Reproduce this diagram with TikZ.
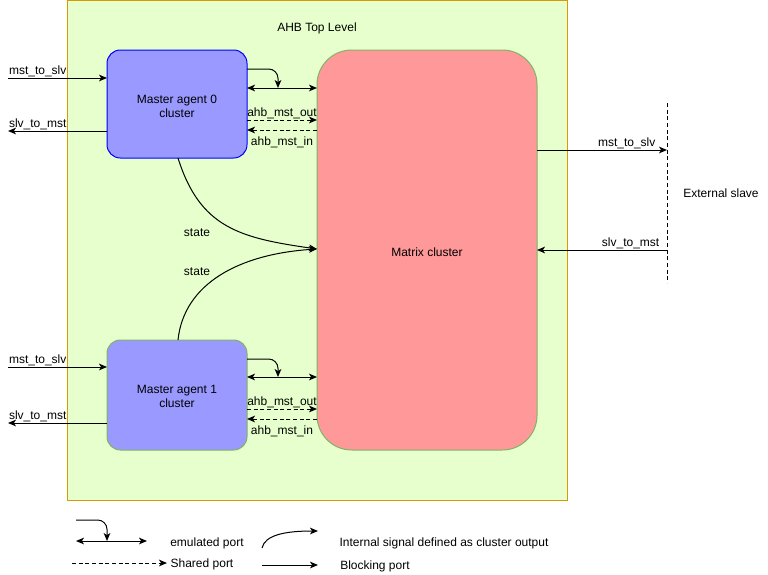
\documentclass[tikz,border=0pt]{standalone}
\usepackage{fontspec}
\setmainfont{Liberation Sans}
\usetikzlibrary{arrows.meta,calc}
\definecolor{topfill}{HTML}{E6FFCC}
\definecolor{topline}{HTML}{D79B00}
\definecolor{agentfill}{HTML}{9999FF}
\definecolor{matrixfill}{HTML}{FF9999}
\definecolor{greenline}{HTML}{82B366}
\begin{document}
\begin{tikzpicture}[x=0.75pt,y=-0.75pt,
  every node/.style={font=\fontsize{9}{10.5}\selectfont, inner sep=0pt, outer sep=0pt},
  tip/.style={-{Stealth[length=6pt,width=5pt,inset=1.6pt]}},
  tips/.style={{Stealth[length=6pt,width=5pt,inset=1.6pt]}-{Stealth[length=6pt,width=5pt,inset=1.6pt]}},
  wire/.style={line width=0.75pt, tip},
  shared/.style={line width=0.75pt, dashed, dash pattern=on 3pt off 2pt, tip},
  agent/.style={draw, line width=0.75pt, fill=agentfill, rounded corners=10pt, minimum width=105pt, minimum height=81pt},
  boxtext/.style={align=center}]
\useasboundingbox (0,0) rectangle (768,575);

% top level container
\node[draw=topline, fill=topfill, line width=0.75pt, minimum width=375pt, minimum height=375pt, anchor=north west] (top) at (67,0) {};
\node (toptitle) at (317,28) {AHB Top Level};

% clusters
\node[agent, draw=blue, anchor=north west] (m0) at (107,50) {};
\node[boxtext] (m0lbl) at (177,106) {Master agent 0\\cluster};
\node[agent, draw=greenline, anchor=north west, minimum height=82.5pt] (m1) at (107,340) {};
\node[boxtext] (m1lbl) at (177,396.5) {Master agent 1\\cluster};
\node[draw=greenline, fill=matrixfill, line width=0.75pt, rounded corners=26pt, minimum width=165pt, minimum height=300pt, anchor=north west] (mx) at (317,50) {};
\node (mxlbl) at (427,252) {Matrix cluster};

% external side
\coordinate (ext0) at (667,103);
\coordinate (ext1) at (667,283);
\draw[line width=0.75pt, dashed, dash pattern=on 3pt off 2pt] (ext0) -- (ext1);
\node (extlbl) at (721,193) {External slave};

% left-side interface arrows
\foreach \nm/\ya/\yb in {m0/78/131, m1/367/423}{
  \coordinate (\nm in) at (8,\ya);
  \coordinate (\nm out) at (8,\yb);
  \draw[wire] (\nm in) -- (\nm.west |- \nm in) node[pos=0.3, above=0.8pt] {mst\_to\_slv};
  \draw[wire] (\nm.west |- \nm out) -- (\nm out) node[pos=0.7, above=1pt] {slv\_to\_mst};
}

% ports between agents and matrix
\foreach \nm/\yb/\ye/\yo/\yi in {m0/69/88/120/130, m1/359/377/409/419}{
  \draw[line width=0.75pt, tips] (\nm.east |- 0,\ye) -- (mx.west |- 0,\ye);
  \draw[line width=0.75pt, tip, rounded corners=7pt] (\nm.east |- 0,\yb) -- (278,\yb) -- (278,\ye);
  \draw[shared] (\nm.east |- 0,\yo) -- (mx.west |- 0,\yo) node[midway, above=0.6pt] {ahb\_mst\_out};
  \draw[shared] (mx.west |- 0,\yi) -- (\nm.east |- 0,\yi) node[midway, below=5pt] {ahb\_mst\_in};
}

% state signals
\coordinate (s0) at (178,158);
\coordinate (s1) at (178,340);
\coordinate (sx) at (317,249);
\draw[line width=0.75pt, tip] (s0) .. controls (200,228) and (240,238) .. (sx);
\draw[line width=0.75pt, tip] (s1) .. controls (184,283) and (240,254) .. (sx);
\node (st0) at (197,233) {state};
\node (st1) at (197,272) {state};

% matrix to external slave
\draw[wire] (mx.east |- 0,150) -- (ext0 |- 0,150) node[pos=0.69, above=1pt] {mst\_to\_slv};
\draw[wire] (ext0 |- 0,250) -- (mx.east |- 0,250) node[pos=0.28, above=1.2pt] {slv\_to\_mst};

% legend
\coordinate (le0) at (76,541);
\coordinate (le1) at (147,541);
\draw[line width=0.75pt, tips] (le0) -- (le1);
\draw[line width=0.75pt, tip, rounded corners=7pt] (76,520) -- (107,520) -- (107,541);
\node (legemu) at (207,543) {emulated port};
\coordinate (ls0) at (72,563);
\coordinate (ls1) at (167,563);
\draw[shared] (ls0) -- (ls1);
\node (legsh) at (202,564.5) {Shared port};
\coordinate (li0) at (262,548);
\coordinate (li1) at (318,531);
\draw[line width=0.75pt, tip] (li0) .. controls (265,535) and (285,531) .. (li1);
\node (legint) at (444,543) {Internal signal defined as cluster output};
\coordinate (lb0) at (262,565);
\coordinate (lb1) at (318,565);
\draw[wire] (lb0) -- (lb1);
\node (legbl) at (375,566.5) {Blocking port};
\end{tikzpicture}
\end{document}
